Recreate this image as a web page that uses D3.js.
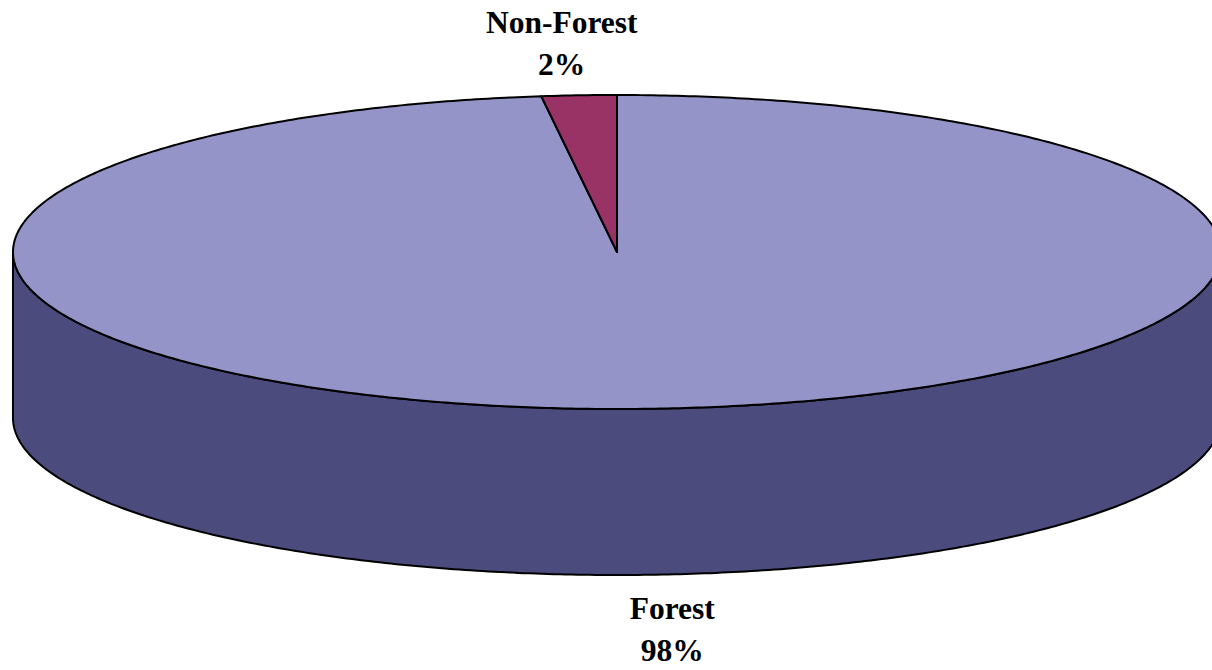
<!DOCTYPE html>
<html>
<head>
<meta charset="utf-8">
<script src="https://cdn.jsdelivr.net/npm/d3@7"></script>
<style>
html,body{margin:0;padding:0;background:#fff;overflow:hidden;}
svg{display:block;}
</style>
</head>
<body>
<svg id="chart" width="1212" height="670"></svg>
<script>
// Data
const categories = ["Forest", "Non-Forest"];
const values = [98, 2];
const percentLabels = ["98%", "2%"];

const topColors = ["#9494C8", "#993366"];
const sideColors = ["#4B4B7D", "#5C1F3D"];

const W = 1212, H = 670;
const cx = 617, cy = 252, rx = 604, ry = 157, depth = 166;

const svg = d3.select("#chart");

const pie = d3.pie().sort(null).value(d => d.value);
const arcs = pie(categories.map((c, i) => ({name: c, value: values[i], pct: percentLabels[i], i})));

function pt(a, dy) {
  return [cx + rx * Math.sin(a), cy - ry * Math.cos(a) + (dy || 0)];
}
function arcPts(a0, a1, dy) {
  const n = Math.max(2, Math.ceil(Math.abs(a1 - a0) / 0.01));
  return d3.range(n + 1).map(k => pt(a0 + (a1 - a0) * k / n, dy));
}
const line = d3.line();

// Sides (front half only: angles pi/2 .. 3pi/2)
arcs.forEach(d => {
  const s = Math.max(d.startAngle, Math.PI / 2);
  const e = Math.min(d.endAngle, 3 * Math.PI / 2);
  if (e <= s) return;
  const topPts = arcPts(s, e, 0);
  const botPts = arcPts(e, s, depth);
  svg.append("path")
    .attr("d", line(topPts.concat(botPts)) + "Z")
    .attr("fill", sideColors[d.data.i])
    .attr("stroke", "#000")
    .attr("stroke-width", 2)
    .attr("stroke-linejoin", "round");
});

// Top faces
arcs.forEach(d => {
  const pts = [[cx, cy]].concat(arcPts(d.startAngle, d.endAngle, 0));
  svg.append("path")
    .attr("d", line(pts) + "Z")
    .attr("fill", topColors[d.data.i])
    .attr("stroke", "#000")
    .attr("stroke-width", 2)
    .attr("stroke-linejoin", "round");
});

// Labels
const lh = 42;
arcs.forEach(d => {
  const mid = (d.startAngle + d.endAngle) / 2;
  const x = cx + 880 * Math.sin(mid);
  const back = Math.cos(mid) > 0;
  const y1 = back ? cy - ry - 62 : cy + ry + depth + 44;
  const t = svg.append("text")
    .attr("x", x)
    .attr("y", y1)
    .attr("text-anchor", "middle")
    .attr("font-family", "'Liberation Serif','Times New Roman',serif")
    .attr("font-weight", "bold")
    .attr("font-size", 31.5)
    .attr("fill", "#000");
  t.append("tspan").attr("x", x).attr("y", y1).text(d.data.name);
  t.append("tspan").attr("x", x).attr("y", y1 + lh).text(d.data.pct);
});
</script>
</body>
</html>
